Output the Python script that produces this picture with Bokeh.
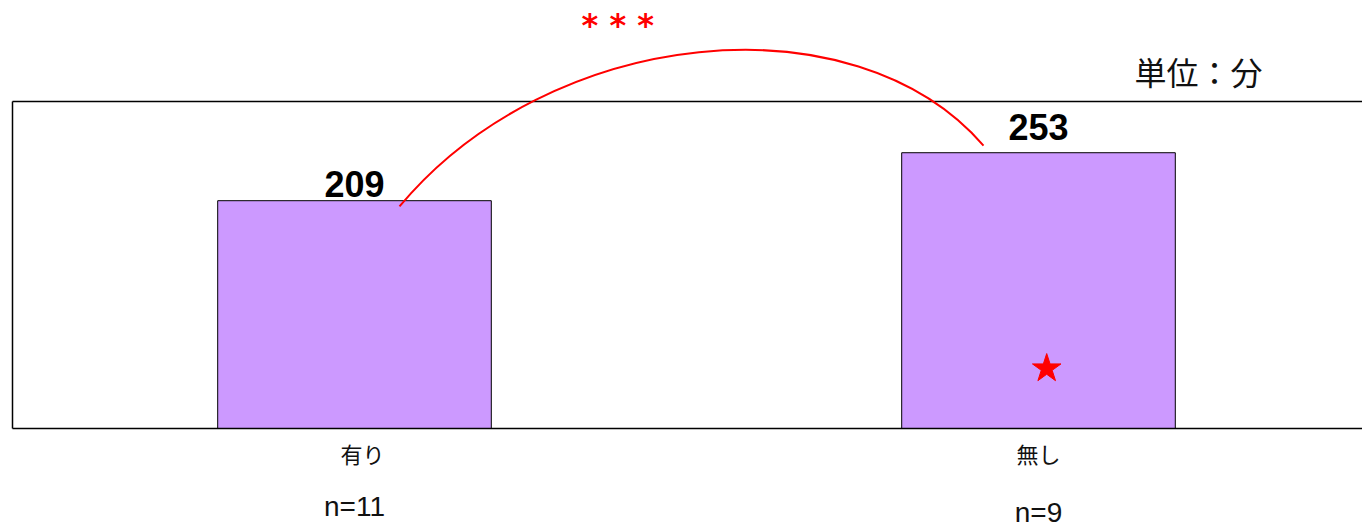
from bokeh.plotting import figure
from bokeh.models import Range1d
from bokeh.embed import file_html
from bokeh.resources import INLINE
from bokeh.core.properties import value

# ---- data ----
categories = ["有り", "無し"]
means = [209, 253]
n_labels = ["n=11", "n=9"]
unit_label = "単位：分"
sig_label = "* * *"
y_max = 300

# ---- layout helpers (pixels per data unit) ----
PX_X = 684.0
PX_Y = 327.0 / y_max
W, H = 1362, 531
x_pos = [0.5, 1.5]
x_start = -12 / PX_X
x_end = x_start + W / PX_X
y_start = -(H - 428) / PX_Y
y_end = y_max + 101 / PX_Y

p = figure(width=W, height=H,
           x_range=Range1d(x_start, x_end), y_range=Range1d(y_start, y_end),
           x_axis_type=None, y_axis_type=None,
           output_backend="svg", toolbar_location=None, min_border=0)
p.outline_line_color = None
p.background_fill_color = "white"
p.border_fill_color = "white"

# bars
p.vbar(x=x_pos, top=means, bottom=0, width=0.4,
       fill_color="#CC99FF", line_color="black", line_width=1)

# plot box (left, top, bottom; open on the right)
p.segment(x0=[0, 0, 0], y0=[0, y_max, 0], x1=[x_end, x_end, 0], y1=[0, y_max, y_max],
          line_color="black", line_width=1.5)

# value labels
p.text(x=x_pos, y=means, text=[str(v) for v in means],
       text_font=value("Liberation Sans"), text_font_style="bold", text_font_size="36px",
       text_align="center", text_baseline="alphabetic", text_color="black",
       y_offset=[-17, -26])

# category labels
p.text(x=x_pos, y=[0, 0], text=categories,
       text_font=value("Noto Sans CJK JP"), text_font_size="22px",
       text_align="center", text_baseline="middle", text_color="#111111",
       x_offset=[8, 0], y_offset=[24, 24])

# n labels
p.text(x=x_pos, y=[0, 0], text=n_labels,
       text_font=value("Liberation Sans"), text_font_size="28px",
       text_align="center", text_baseline="middle", text_color="#111111",
       y_offset=[78, 84])

# significance arc
p.bezier(x0=[0.5658], y0=[203.7], x1=[1.4196], y1=[259.6],
         cx0=[0.785], cy0=[368.8], cx1=[1.2295], cy1=[397.2],
         line_color="red", line_width=2)

# significance asterisks
p.text(x=[0.885], y=[370.6], text=[sig_label],
       text_font=value("DejaVu Sans"), text_font_style="bold", text_font_size="32px",
       text_align="center", text_baseline="alphabetic", text_color="red")

# unit label
p.text(x=[1.8275], y=[328.0], text=[unit_label],
       text_font=value("Noto Sans CJK JP"), text_font_size="32px",
       text_align="right", text_baseline="middle", text_color="#111111")

# star marker
p.scatter(x=[1.512], y=[55], marker="star", size=30,
          fill_color="red", line_color="red")

open("out.html", "w").write(file_html(p, INLINE))
